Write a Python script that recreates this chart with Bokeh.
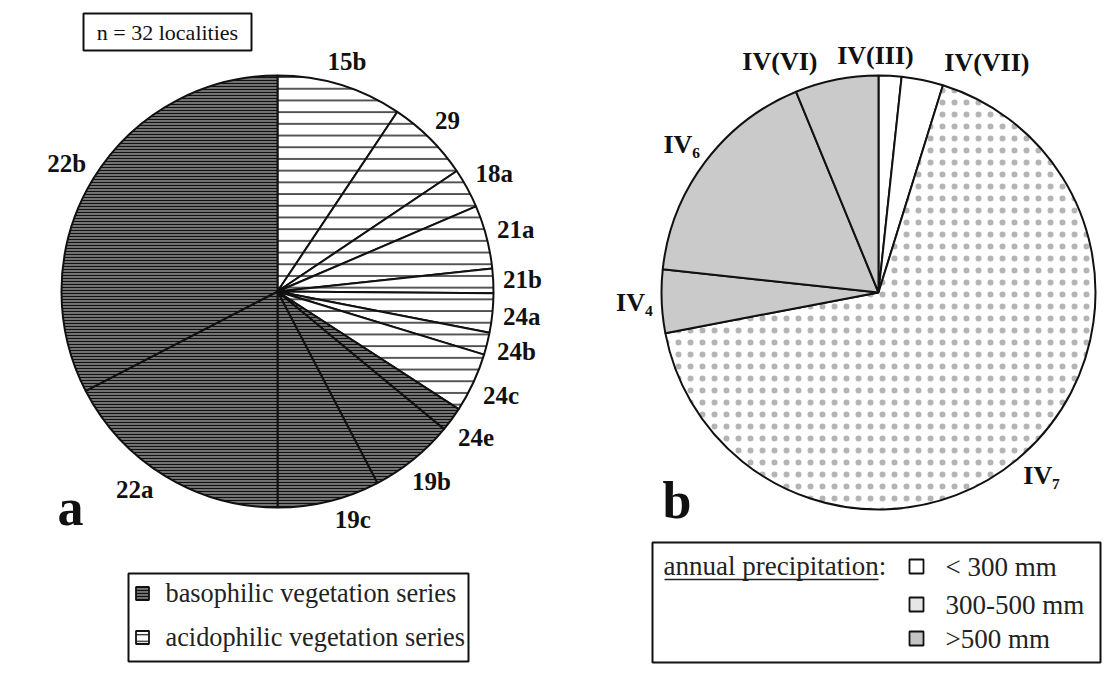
import numpy as np
from bokeh.plotting import figure
from bokeh.models import Range1d, ColumnDataSource
from bokeh.core.properties import value
from bokeh.embed import file_html
from bokeh.resources import INLINE

# ---------------- data ----------------
# chart a: vegetation series (share of 32 localities, %)
a_labels = ["15b", "29", "18a", "21a", "21b", "24a", "24b", "24c",
            "24e", "19b", "19c", "22a", "22b"]
a_values = [9.36, 6.22, 2.97, 4.75, 1.83, 2.92, 1.67, 4.44,
            1.83, 6.36, 7.64, 17.39, 32.61]
a_series = ["acidophilic"] * 8 + ["basophilic"] * 5

# chart b: climate types by annual precipitation (%)
b_labels = ["IV(III)", "IV(VII)", "IV\u2087", "IV\u2084", "IV\u2086", "IV(VI)"]
b_values = [1.7, 3.1, 67.2, 4.7, 17.1, 6.2]
b_precip = ["<300", "<300", "300-500", ">500", ">500", ">500"]

a_legend = ["basophilic vegetation series", "acidophilic vegetation series"]
b_legend = ["< 300 mm", "300-500 mm", ">500 mm"]
b_legend_keys = ["<300", "300-500", ">500"]

# ---------------- styles ----------------
FONT = value("Liberation Serif")
STYLE = {
    "basophilic": dict(fill="#747474", hatch="horizontal_line", hcol="#111111", hscale=3.0, hw=1.1),
    "acidophilic": dict(fill="#ffffff", hatch="horizontal_line", hcol="#111111", hscale=11.7, hw=1.4),
    "<300": dict(fill="#ffffff", hatch=" ", hcol="#000000", hscale=12.0, hw=1.0),
    "300-500": dict(fill="#ffffff", hatch="dot", hcol="#b4b4b4", hscale=12.0, hw=0.4),
    ">500": dict(fill="#cacaca", hatch=" ", hcol="#000000", hscale=12.0, hw=1.0),
}

W, H = 1110, 686
p = figure(width=W, height=H, output_backend="svg", toolbar_location=None,
           x_range=Range1d(0, W), y_range=Range1d(691 - H, 691),
           min_border=0, match_aspect=False)
p.axis.visible = False
p.grid.visible = False
p.outline_line_color = None
p.background_fill_color = "white"
p.border_fill_color = "white"


def sy(screen_y):
    # convert a page-pixel y into data y (data y grows upwards)
    return 691 - screen_y


def pie(cx, cy, R, values, labels, cats, nudges, fs):
    vals = np.array(values, dtype=float)
    cum = np.concatenate([[0.0], np.cumsum(vals)]) / vals.sum()
    start = np.pi / 2 - 2 * np.pi * cum[1:]
    end = np.pi / 2 - 2 * np.pi * cum[:-1]
    src = ColumnDataSource(dict(
        start=start, end=end,
        fill=[STYLE[c]["fill"] for c in cats],
        hatch=[STYLE[c]["hatch"] for c in cats],
        hcol=[STYLE[c]["hcol"] for c in cats],
        hscale=[STYLE[c]["hscale"] for c in cats],
        hw=[STYLE[c]["hw"] for c in cats],
    ))
    p.wedge(x=cx, y=cy, radius=R, start_angle="start", end_angle="end", source=src,
            fill_color="fill", hatch_pattern="hatch", hatch_color="hcol",
            hatch_scale="hscale", hatch_weight="hw",
            line_color="#111111", line_width=2)
    # labels
    mids = (cum[:-1] + cum[1:]) / 2 * 360 + np.array(nudges)
    xs, ys = [], []
    for lab, m in zip(labels, mids):
        th = np.radians(m)
        s, c = np.sin(th), np.cos(th)
        n = sum(0.6 if ch in "\u2084\u2086\u2087" else 1.0 for ch in lab)
        w = 0.5 * fs * n
        h = 0.7 * fs
        r = R + 10 + abs(s) * w / 2 + abs(c) * h / 2
        xs.append(cx + r * s)
        ys.append(cy + r * c)
    p.text(x=xs, y=ys, text=labels, text_font=FONT, text_font_style="bold",
           text_font_size=f"{fs}px", text_align="center", text_baseline="middle",
           text_color="#111111")


# chart a
pie(277, sy(291), 216, a_values, a_labels, a_series,
    [0, 0, 0, 0, 0, 0, 0, 0, 0, 0, -4.5, 4.5, 0], 25)
# chart b
pie(878, sy(292), 217, b_values, b_labels, b_precip,
    [-3.8, 13.5, 0, 0, 0, -12.0], 26)

# panel letters
p.text(x=[57, 662], y=[sy(507), sy(500)], text=["a", "b"], text_font=FONT,
       text_font_style="bold", text_font_size="52px", text_align="left",
       text_baseline="alphabetic", text_color="#111111")

# n box
p.quad(left=[83], right=[251], top=[sy(13)], bottom=[sy(50)], fill_color=None,
       line_color="#111111", line_width=2)
p.text(x=[167], y=[sy(31.5)], text=["n = 32 localities"], text_font=FONT,
       text_font_size="22px", text_align="center", text_baseline="middle",
       text_color="#111111")

# legend a
p.quad(left=[128], right=[468], top=[sy(573)], bottom=[sy(661)], fill_color=None,
       line_color="#111111", line_width=2)
leg_a_y = [sy(593), sy(637)]
for yy, key in zip(leg_a_y, ["basophilic", "acidophilic"]):
    st = STYLE[key]
    p.rect(x=[142], y=[yy], width=13, height=13, fill_color=st["fill"],
           hatch_pattern=st["hatch"], hatch_color=st["hcol"],
           hatch_scale=3 if key == "basophilic" else 6.5, hatch_weight=1.2,
           line_color="#111111", line_width=1.8)
p.text(x=[165, 165], y=leg_a_y, text=a_legend, text_font=FONT, text_font_size="26.3px",
       text_align="left", text_baseline="middle", text_color="#222222")

# legend b
p.quad(left=[652], right=[1100], top=[sy(542)], bottom=[sy(662)], fill_color=None,
       line_color="#111111", line_width=2)
p.text(x=[663], y=[sy(565)], text=["annual precipitation:"], text_font=FONT,
       text_font_size="27px", text_align="left", text_baseline="middle",
       text_color="#222222")
p.segment(x0=[664], x1=[878], y0=[sy(579)], y1=[sy(579)], line_color="#222222",
          line_width=1.3)
leg_b_y = [sy(566), sy(604), sy(638)]
leg_fill = {"<300": "#ffffff", "300-500": "#e6e6e6", ">500": "#c4c4c4"}
for yy, key in zip(leg_b_y, b_legend_keys):
    p.rect(x=[916], y=[yy], width=14, height=14, fill_color=leg_fill[key],
           line_color="#111111", line_width=1.8)
p.text(x=[945] * 3, y=leg_b_y, text=b_legend, text_font=FONT, text_font_size="27px",
       text_align="left", text_baseline="middle", text_color="#222222")

open("out.html", "w").write(file_html(p, INLINE))
